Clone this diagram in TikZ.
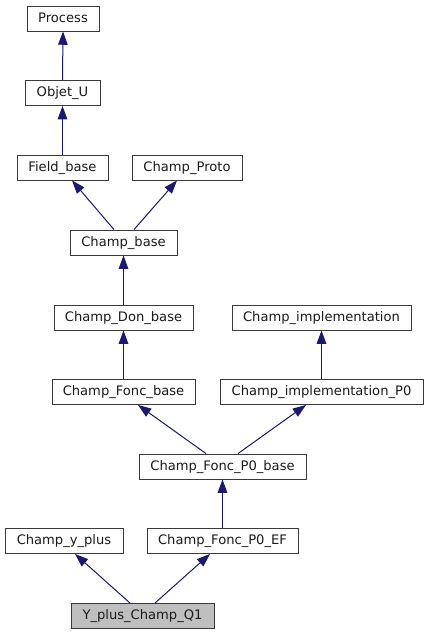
\documentclass[tikz,border=0pt]{standalone}
\usepackage{fontspec}
\setmainfont{DejaVu Sans}
\usetikzlibrary{arrows.meta}
\definecolor{edgeblue}{HTML}{191970}
\definecolor{boxline}{HTML}{3A3A3A}
\definecolor{txt}{HTML}{1A1A1A}
\tikzset{
  cls/.style={draw=boxline, line width=0.9pt, fill=white, inner sep=0pt,
    minimum height=25pt, text height=10pt, text depth=3pt, text=txt,
    font=\fontsize{13.1}{15}\selectfont},
  cur/.style={cls, fill=black!25},
  inh/.style={draw=edgeblue, line width=1pt,
    -{Triangle[length=13.3pt,width=9.5pt]}},
}
\begin{document}
\begin{tikzpicture}[x=1pt,y=-1pt]
\useasboundingbox (0,0) rectangle (428,635);
\node[cls, minimum width=72pt]  (pr)  at (63,18.5)   {Process};
\node[cls, minimum width=75pt]  (ob)  at (62.5,93)   {Objet\_U};
\node[cls, minimum width=91pt]  (fb)  at (62.5,167.5) {Field\_base};
\node[cls, minimum width=110pt] (cp)  at (187,167.5) {Champ\_Proto};
\node[cls, minimum width=107pt] (cb)  at (123.5,242.5) {Champ\_base};
\node[cls, minimum width=139pt] (cdb) at (123.5,317.5) {Champ\_Don\_base};
\node[cls, minimum width=179pt] (ci)  at (321.5,317.5) {Champ\_implementation};
\node[cls, minimum width=143pt] (cfb) at (123.5,392) {Champ\_Fonc\_base};
\node[cls, minimum width=203pt] (cip) at (321.5,392) {Champ\_implementation\_P0};
\node[cls, minimum width=167pt] (cfp) at (222.5,466.5) {Champ\_Fonc\_P0\_base};
\node[cls, minimum width=118pt] (cyp) at (64,541) {Champ\_y\_plus};
\node[cls, minimum width=151pt] (cfe) at (222.5,541) {Champ\_Fonc\_P0\_EF};
\node[cur, minimum width=143pt] (yq)  at (142.5,616) {Y\_plus\_Champ\_Q1};

\draw[inh] (ob.north) -- (pr.south);
\draw[inh] (fb.north) -- (ob.south);
\draw[inh] ([xshift=-9.5pt]cb.north) -- ([xshift=9.5pt]fb.south);
\draw[inh] ([xshift=10.5pt]cb.north) -- ([xshift=-10pt]cp.south);
\draw[inh] (cdb.north) -- (cb.south);
\draw[inh] (cfb.north) -- (cdb.south);
\draw[inh] (cip.north) -- (ci.south);
\draw[inh] ([xshift=-16.5pt]cfp.north) -- ([xshift=14.5pt]cfb.south);
\draw[inh] ([xshift=15.5pt]cfp.north) -- ([xshift=-15.5pt]cip.south);
\draw[inh] (cfe.north) -- (cfp.south);
\draw[inh] ([xshift=-12.5pt]yq.north) -- ([xshift=11pt]cyp.south);
\draw[inh] ([xshift=12.5pt]yq.north) -- ([xshift=-12.5pt]cfe.south);
\end{tikzpicture}
\end{document}
